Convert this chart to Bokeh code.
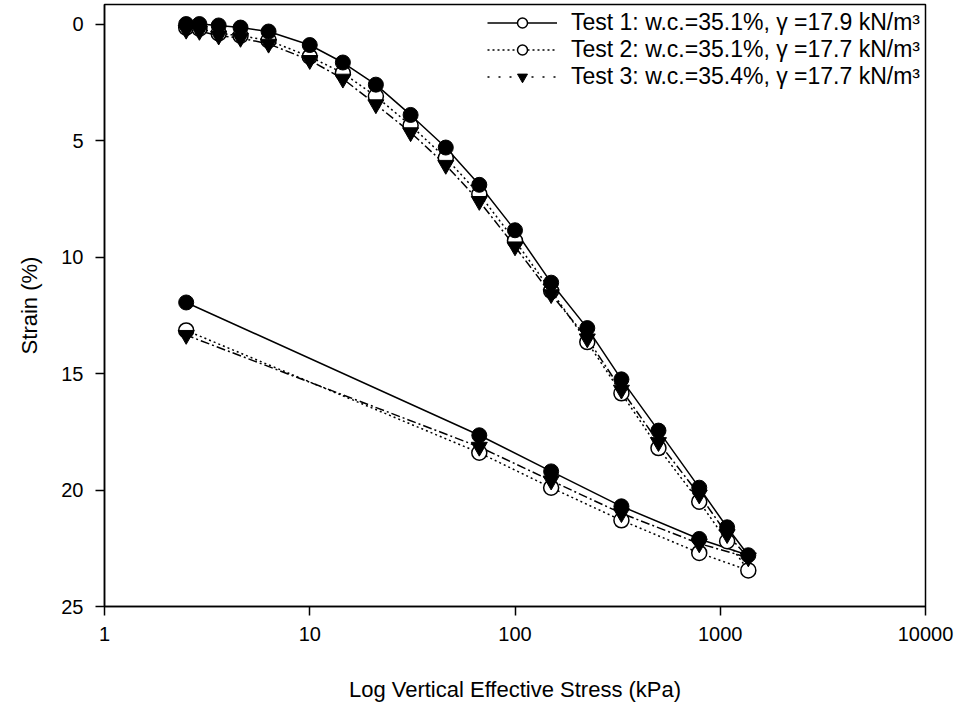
from bokeh.plotting import figure
from bokeh.models import Range1d, FixedTicker, CustomJSTickFormatter, Legend, LegendItem
from bokeh.embed import file_html
from bokeh.resources import INLINE

# ---- data ----
stress_load = [2.5, 2.9, 3.6, 4.6, 6.3, 10, 14.5, 21, 31, 46, 67, 100, 150, 225, 330, 500, 790, 1080, 1370]
stress_unload = [1370, 790, 330, 150, 67, 2.5]

test1_load = [0.0, 0.0, 0.06, 0.15, 0.32, 0.9, 1.65, 2.6, 3.9, 5.3, 6.9, 8.85, 11.1, 13.05, 15.25, 17.45, 19.9, 21.6, 22.8]
test1_unload = [22.8, 22.1, 20.7, 19.2, 17.65, 11.95]
test2_load = [0.15, 0.2, 0.4, 0.5, 0.7, 1.4, 2.1, 3.1, 4.35, 5.75, 7.3, 9.3, 11.45, 13.65, 15.85, 18.2, 20.5, 22.2, 23.45]
test2_unload = [23.45, 22.7, 21.3, 19.9, 18.4, 13.15]
test3_load = [0.25, 0.3, 0.5, 0.6, 0.85, 1.55, 2.35, 3.45, 4.65, 6.05, 7.6, 9.55, 11.6, 13.5, 15.7, 17.95, 20.2, 21.9, 22.9]
test3_unload = [22.9, 22.3, 21.0, 19.6, 18.15, 13.35]

labels = [
    "Test 1: w.c.=35.1%, \u03b3 =17.9 kN/m\u00b3",
    "Test 2: w.c.=35.1%, \u03b3 =17.7 kN/m\u00b3",
    "Test 3: w.c.=35.4%, \u03b3 =17.7 kN/m\u00b3",
]
x_ticks = [1, 10, 100, 1000, 10000]
y_ticks = [0, 5, 10, 15, 20, 25]

FONT = "Liberation Sans"
NAN = float("nan")

p = figure(
    x_axis_type="log",
    frame_width=821, frame_height=602,
    min_border_left=104, min_border_right=30, min_border_top=4, min_border_bottom=94,
    x_range=Range1d(1, 10000), y_range=Range1d(25, -0.84),
    output_backend="svg", toolbar_location=None,
)
p.grid.visible = False
p.outline_line_color = "black"
p.outline_line_width = 1.5

for ax in (p.xaxis[0], p.yaxis[0]):
    ax.axis_line_width = 1.5
    ax.major_tick_line_width = 1.5
    ax.major_tick_out = 9
    ax.major_tick_in = 0
    ax.minor_tick_out = 0
    ax.minor_tick_in = 0
    ax.major_label_text_font = FONT
    ax.major_label_text_font_size = "20px"
    ax.major_label_text_color = "black"
    ax.axis_label_text_font = FONT
    ax.axis_label_text_font_size = "22px"
    ax.axis_label_text_font_style = "normal"
    ax.axis_label_text_color = "black"

p.xaxis.ticker = FixedTicker(ticks=x_ticks, minor_ticks=[])
p.xaxis.formatter = CustomJSTickFormatter(code="return tick.toFixed(0);")
p.yaxis.ticker = FixedTicker(ticks=y_ticks, minor_ticks=[])
p.xaxis.major_label_standoff = 11
p.yaxis.major_label_standoff = 12
p.xaxis.axis_label = "Log Vertical Effective Stress (kPa)"
p.yaxis.axis_label = "Strain (%)"
p.xaxis.axis_label_standoff = 33
p.yaxis.axis_label_standoff = 16

x_all = stress_load + stress_unload[1:]
y1 = test1_load + test1_unload[1:]
y2 = test2_load + test2_unload[1:]
y3 = test3_load + test3_unload[1:]

# lines
p.line(x_all, y2, line_color="black", line_width=1.5, line_dash="2 3")
p.line(x_all, y3, line_color="black", line_width=1.5, line_dash="9 3 2 3")
p.line(x_all, y1, line_color="black", line_width=1.5)

# markers
p.scatter(x_all, y2, marker="circle", size=15, fill_color="white", line_color="black", line_width=1.5)
p.scatter(x_all, y3, marker="inverted_triangle", size=16, fill_color="black", line_color="black", line_width=1)
p.scatter(x_all, y1, marker="circle", size=15, fill_color="black", line_color="black", line_width=1)

# legend proxies (drawn as in the original legend, no data)
l1 = p.line([NAN], [NAN], line_color="black", line_width=1.5)
m1 = p.scatter([NAN], [NAN], marker="circle", size=13, fill_color="white", line_color="black", line_width=1.5)
l2 = p.line([NAN], [NAN], line_color="black", line_width=1.5, line_dash="2 3")
m2 = p.scatter([NAN], [NAN], marker="circle", size=13, fill_color="white", line_color="black", line_width=1.5)
l3 = p.line([NAN], [NAN], line_color="black", line_width=1.5, line_dash="2 9")
m3 = p.scatter([NAN], [NAN], marker="inverted_triangle", size=15, fill_color="black", line_color="black")

legend = Legend(
    items=[
        LegendItem(label=labels[0], renderers=[l1, m1]),
        LegendItem(label=labels[1], renderers=[l2, m2]),
        LegendItem(label=labels[2], renderers=[l3, m3]),
    ],
    location="top_right",
    glyph_width=70, glyph_height=25, label_height=20,
    label_standoff=14, spacing=0, padding=5, margin=0,
    border_line_alpha=0, background_fill_alpha=0,
    label_text_font=FONT, label_text_font_size="23px", label_text_color="black",
)
p.add_layout(legend)

open("out.html", "w").write(file_html(p, INLINE))
